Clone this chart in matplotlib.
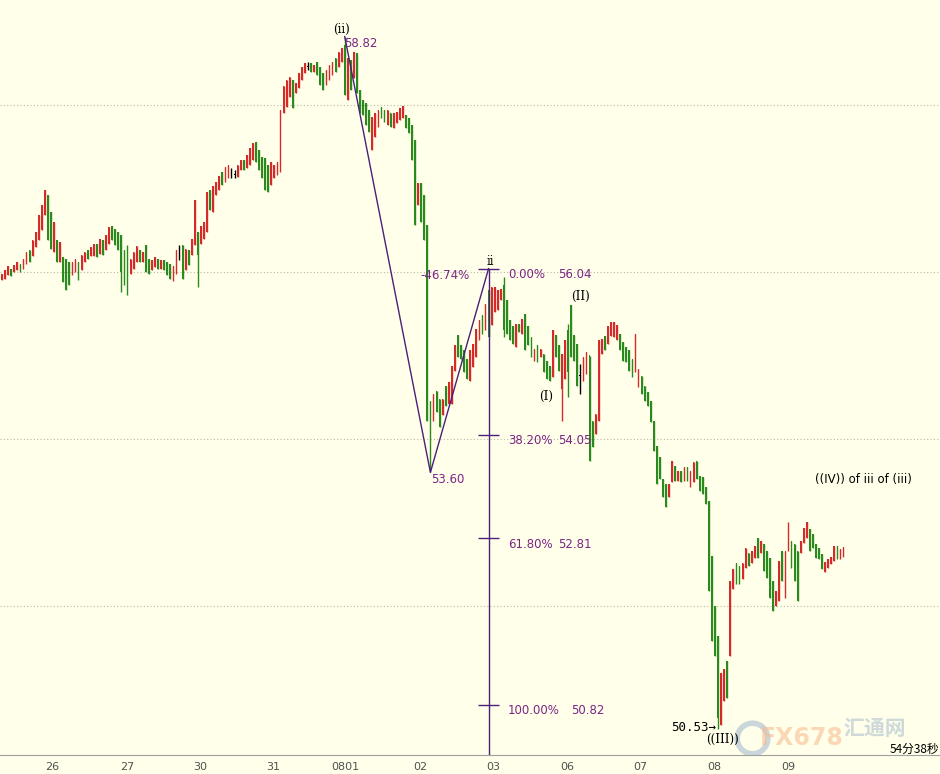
import matplotlib
matplotlib.use("Agg")
import matplotlib.pyplot as plt
import numpy as np

# hourly candles, prices
opens = [
    55.90, 55.92, 55.97, 56.04, 56.00, 56.02, 56.09, 56.04, 56.09, 56.26, 56.19, 56.30,
    56.38, 56.50, 56.68, 56.92, 56.72, 56.24, 56.38, 56.12, 56.18, 56.16, 56.12, 55.97,
    56.00, 56.12, 56.02, 56.12, 56.26, 56.19, 56.19, 56.34, 56.22, 56.38, 56.26, 56.34,
    56.55, 56.52, 56.48, 56.44, 56.26, 56.20, 55.98, 56.04, 56.12, 56.26, 56.12, 56.32,
    56.16, 56.02, 56.06, 56.16, 56.04, 56.14, 56.12, 56.09, 55.89, 55.98, 56.22, 56.32,
    56.02, 56.26, 56.20, 56.32, 56.48, 56.33, 56.40, 56.48, 56.98, 56.72, 56.92, 56.98,
    57.20, 57.08, 57.12, 57.18, 57.16, 57.14, 57.22, 57.34, 57.24, 57.28, 57.34, 57.56,
    57.46, 57.38, 57.36, 57.28, 57.04, 57.12, 57.16, 57.20, 57.90, 57.98, 58.10, 58.30,
    58.14, 58.20, 58.30, 58.38, 58.46, 58.50, 58.40, 58.52, 58.46, 58.38, 58.24, 58.30,
    58.36, 58.56, 58.46, 58.52, 58.72, 58.06, 58.54, 58.32, 58.62, 58.18, 58.06, 58.02,
    57.94, 57.46, 57.62, 57.74, 57.98, 57.94, 57.76, 57.90, 57.72, 57.78, 57.82, 57.84,
    57.88, 57.84, 57.76, 57.58, 56.80, 57.06, 56.92, 56.56, 54.46, 54.22, 54.58, 54.48,
    54.29, 54.64, 54.42, 54.42, 54.82, 55.24, 55.12, 55.06, 54.96, 54.70, 54.86, 54.98,
    55.18, 55.48, 55.30, 55.78, 55.36, 55.52, 55.54, 55.66, 55.84, 55.66, 55.42, 55.35,
    55.10, 55.38, 55.26, 55.50, 55.35, 55.22, 54.94, 55.12, 54.98, 55.02, 54.94, 54.88,
    54.74, 55.24, 55.12, 54.60, 54.72, 55.30, 55.60, 55.24, 55.14, 54.76, 54.70, 54.78,
    55.00, 54.22, 54.06, 54.22, 55.02, 55.23, 55.14, 55.23, 55.22, 55.18, 55.26, 55.16,
    55.10, 55.06, 54.96, 54.80, 54.62, 54.75, 54.63, 54.56, 54.46, 54.22, 53.92, 53.78,
    53.52, 53.46, 53.30, 53.48, 53.68, 53.50, 53.62, 53.50, 53.67, 53.42, 53.48, 53.74,
    53.56, 53.54, 53.42, 53.26, 52.60, 52.00, 51.64, 50.58, 50.86, 51.34, 51.40, 52.20,
    52.52, 52.48, 52.32, 52.46, 52.64, 52.52, 52.58, 52.82, 52.64, 52.74, 52.66, 52.58,
    52.30, 52.00, 52.06, 52.66, 52.10, 52.66, 52.78, 52.74, 52.66, 52.64, 52.76, 52.82,
    52.92, 52.86, 52.74, 52.70, 52.62, 52.41, 52.46, 52.50, 52.54, 52.72, 52.56, 52.59,
]
closes = [
    55.98, 56.02, 56.07, 55.95, 56.08, 56.12, 56.00, 56.16, 56.24, 56.12, 56.38, 56.48,
    56.68, 56.80, 56.98, 56.38, 56.28, 56.60, 56.12, 56.36, 55.88, 55.78, 55.84, 56.12,
    56.16, 55.90, 56.20, 56.24, 56.16, 56.30, 56.34, 56.18, 56.40, 56.20, 56.44, 56.54,
    56.38, 56.32, 56.26, 56.00, 55.84, 55.90, 56.16, 56.24, 56.31, 56.12, 56.24, 56.00,
    55.98, 56.14, 56.18, 56.04, 56.14, 56.02, 55.97, 55.92, 56.07, 56.26, 56.22, 55.92,
    56.28, 56.08, 56.40, 56.86, 56.20, 56.55, 56.60, 56.96, 56.74, 57.03, 57.08, 57.15,
    57.04, 57.26, 57.28, 57.18, 57.16, 57.28, 57.34, 57.22, 57.40, 57.48, 57.54, 57.32,
    57.22, 57.12, 56.98, 56.96, 57.32, 57.28, 57.32, 57.94, 58.23, 58.30, 58.34, 57.96,
    58.26, 58.38, 58.46, 58.50, 58.46, 58.40, 58.48, 58.36, 58.24, 58.18, 58.42, 58.48,
    58.52, 58.40, 58.64, 58.68, 58.12, 58.56, 58.18, 58.64, 58.14, 57.90, 57.88, 57.76,
    57.68, 57.86, 57.90, 57.94, 57.84, 57.80, 57.94, 57.74, 57.90, 57.92, 57.96, 57.99,
    57.72, 57.66, 57.34, 56.56, 57.06, 56.60, 56.38, 54.22, 53.72, 54.54, 54.32, 54.14,
    54.48, 54.40, 54.68, 54.88, 55.12, 54.98, 54.96, 54.80, 54.72, 55.06, 55.14, 55.32,
    55.42, 55.26, 55.62, 55.22, 55.82, 55.82, 55.78, 55.80, 55.30, 55.26, 55.18, 55.14,
    55.38, 55.28, 55.44, 55.06, 55.12, 54.98, 55.08, 54.92, 55.08, 54.80, 54.72, 54.70,
    55.30, 54.98, 54.82, 55.02, 55.18, 54.80, 54.98, 54.94, 54.64, 54.76, 54.98, 55.04,
    53.74, 53.90, 54.30, 55.18, 55.20, 55.06, 55.35, 55.40, 55.40, 55.36, 55.06, 54.94,
    54.92, 54.82, 54.74, 55.26, 54.84, 54.54, 54.46, 54.40, 54.20, 53.86, 53.46, 53.52,
    53.30, 53.18, 53.46, 53.74, 53.50, 53.62, 53.48, 53.67, 53.50, 53.62, 53.72, 53.52,
    53.38, 53.34, 53.22, 52.18, 51.58, 51.40, 50.66, 51.20, 51.24, 50.90, 52.30, 52.44,
    52.26, 52.26, 52.52, 52.70, 52.48, 52.66, 52.72, 52.58, 52.78, 52.42, 52.34, 52.10,
    51.94, 52.18, 52.54, 52.30, 52.66, 52.96, 52.46, 52.30, 52.06, 52.78, 52.94, 53.01,
    52.66, 52.70, 52.58, 52.56, 52.44, 52.53, 52.56, 52.59, 52.72, 52.56, 52.68, 52.71,
]
# candles whose wicks reach beyond the body
wick_high = {41: 56.32, 58: 56.32, 75: 57.24, 76: 57.22, 100: 58.52, 112: 58.82,
             164: 55.94, 185: 55.38, 189: 54.90, 257: 53.01}
wick_low = {39: 55.76, 41: 55.72, 58: 56.14, 64: 55.82, 75: 57.12, 76: 57.12,
            100: 58.42, 140: 53.60, 164: 55.22, 183: 54.22, 185: 54.50, 189: 54.54,
            234: 50.53}

day_labels = ["26", "27", "30", "31", "0801", "02", "03", "06", "07", "08", "09"]
day_starts = [16.3, 40.8, 64.7, 88.6, 112.1, 136.6, 160.5, 184.6, 208.5, 232.7, 256.9]

# wave (i)-(ii) swing and projection
wave_idx = [112, 140, 159]
wave_px = [58.82, 53.60, 56.04]
fib_names = ["0.00%", "38.20%", "61.80%", "100.00%"]
fib_px = [56.04, 54.05, 52.81, 50.82]
grid_levels = [52, 54, 56, 58]

BG = "#FFFFEA"
RED = "#D42A2A"
GREEN = "#2A8A1E"
PURPLE = "#7A2585"
LINE = "#4B1F7A"

opens = np.array(opens)
closes = np.array(closes)
n = len(opens)
xs = np.arange(n)
highs = np.maximum(opens, closes)
lows = np.minimum(opens, closes)
for k, v in wick_high.items():
    highs[k] = v
for k, v in wick_low.items():
    lows[k] = v

colors = []
for o, c in zip(opens, closes):
    if c > o:
        colors.append(RED)
    elif c < o:
        colors.append(GREEN)
    else:
        colors.append("black")

fig = plt.figure(figsize=(9.4, 7.74), dpi=100, facecolor=BG)
ax = fig.add_axes([0, 19 / 774, 1, 755 / 774])
ax.set_facecolor(BG)

# y: 83.5 px per dollar, 56.00 at 272 px from top
ax.set_ylim(56 - 483 / 83.5, 56 + 272 / 83.5)
ax.set_xlim(-2 / 3.06, 938 / 3.06)

for lv in grid_levels:
    ax.axhline(lv, color="#B8B8A8", lw=0.8, ls=(0, (1, 2)), zorder=0)

ax.vlines(xs, lows, highs, colors=colors, lw=1, zorder=2)
body = np.abs(closes - opens)
body = np.where(body < 0.01, 0.01, body)
ax.bar(xs, body, bottom=np.minimum(opens, closes), width=0.55,
       color=colors, linewidth=0, zorder=3)

# wave lines
ax.plot(wave_idx, wave_px, color=LINE, lw=1, zorder=4)
ax.vlines(wave_idx[2], ax.get_ylim()[0], wave_px[2], color=LINE, lw=1, zorder=4)
for p in fib_px:
    ax.hlines(p, wave_idx[2] - 3.3, wave_idx[2] + 3.3, color=LINE, lw=1, zorder=4)

lab = dict(color=PURPLE, fontsize=8.5, va="center", ha="left", zorder=5)
for name, p in zip(fib_names, fib_px):
    ax.text(165.4, p - 0.07, name, **lab)
    ax.text(181.7 if len(name) < 7 else 186.0, p - 0.07, f"{p:.2f}", **lab)
ax.text(111.8, 58.74, "58.82", **lab)
ax.text(136.6, 55.96, "-46.74%", **lab)
ax.text(140.2, 53.52, "53.60", **lab)

blk = dict(color="black", fontsize=8.5, va="center", ha="center",
           family="DejaVu Serif", zorder=5)
ax.text(110.8, 58.91, "(ii)", **blk)
ax.text(159.5, 56.12, "ii", **blk)
ax.text(188.9, 55.71, "(II)", **blk)
ax.text(177.8, 54.51, "(I)", **blk)
ax.text(235.3, 50.40, "((III))", **blk)
ax.text(233.5, 50.54, "50.53\u2192", color="black", fontsize=9, va="center",
        ha="right", family="DejaVu Sans Mono", zorder=5)
ax.text(265.7, 53.52, "((IV)) of iii of (iii)", color="black", fontsize=8.5,
        va="center", ha="left", zorder=5)

# watermark
ax.plot([245.1], [50.42], marker="o", ms=22, mfc="none", mec="#A9BCD0",
        mew=4, alpha=0.6, zorder=1)
ax.text(247.8, 50.42, "FX678", color="#F6B98A", alpha=0.55, fontsize=17,
        fontweight="bold", va="center", ha="left", zorder=1)
ax.text(275.0, 50.53, "汇通网", color="#9FB4CC", alpha=0.5, fontsize=15,
        fontweight="bold", va="center", ha="left", family="Noto Sans CJK SC", zorder=1)
ax.text(290.2, 50.28, "54分38秒", color="black", fontsize=8.5, va="center",
        ha="left", family=["Noto Sans CJK SC", "DejaVu Sans"], zorder=6)

for s in ["top", "left", "right"]:
    ax.spines[s].set_visible(False)
ax.spines["bottom"].set_color("#A0A0A0")
ax.set_yticks([])
ax.set_xticks(day_starts)
ax.set_xticklabels(day_labels, fontsize=8, color="#505050")
ax.tick_params(axis="x", length=0, pad=5)

fig.savefig("out.png", dpi=100, facecolor=BG)
